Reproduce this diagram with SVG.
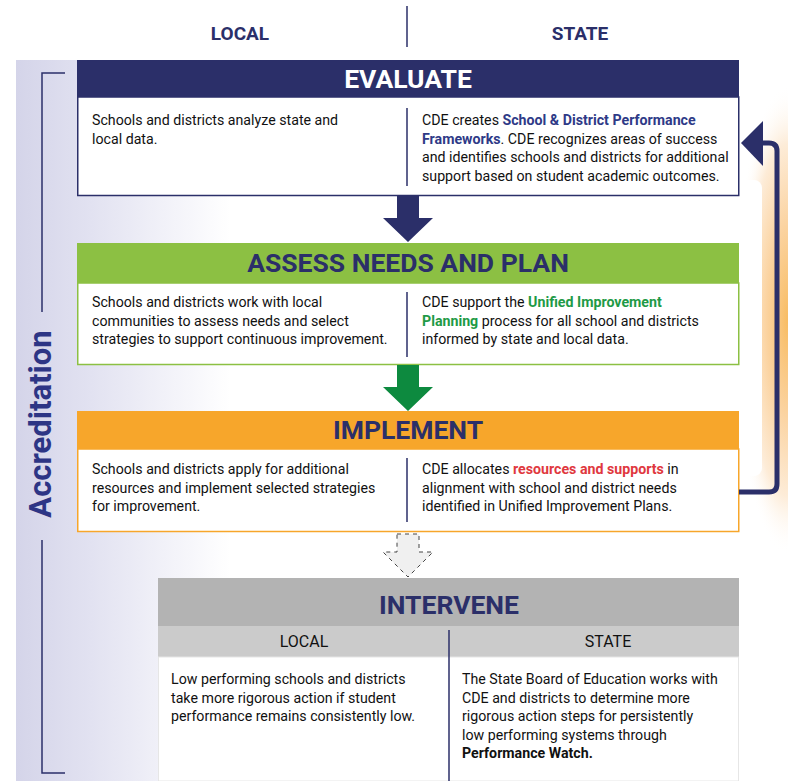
<svg xmlns="http://www.w3.org/2000/svg" width="788" height="781" viewBox="0 0 788 781">
<defs>
<linearGradient id="lav" x1="16" y1="0" x2="230" y2="0" gradientUnits="userSpaceOnUse">
<stop offset="0" stop-color="#d4d4e9"/><stop offset="0.35" stop-color="#e2e2f1"/><stop offset="1" stop-color="#ffffff"/>
</linearGradient>
<radialGradient id="org" cx="1" cy="0.5" r="0.5">
<stop offset="0" stop-color="#f8bc62"/><stop offset="0.4" stop-color="#fbd3a0"/><stop offset="0.75" stop-color="#fdecd8"/><stop offset="1" stop-color="#ffffff" stop-opacity="0"/>
</radialGradient>
<style>
.t{font-family:Roboto,"Liberation Sans",sans-serif;font-size:14.2px;fill:#111}
.b{font-weight:bold}
.col{font-family:Roboto,"Liberation Sans",sans-serif;font-size:19px;font-weight:bold;fill:#2b2f69;text-anchor:middle}
.h{font-family:Roboto,"Liberation Sans",sans-serif;font-size:26.5px;font-weight:bold;text-anchor:middle}
.sub{font-family:Roboto,"Liberation Sans",sans-serif;font-size:16px;fill:#111;text-anchor:middle}
.div{stroke:#2b2f69;stroke-width:1.5}
</style>
</defs>
<rect x="16" y="60" width="772" height="721" fill="url(#lav)"/>
<rect x="680" y="85" width="108" height="470" fill="url(#org)"/>
<rect x="600" y="180" width="162" height="296" rx="8" fill="#ffffff"/>
<g id="columns">
<text class="col" x="240" y="40">LOCAL</text>
<text class="col" x="580" y="40">STATE</text>
<line class="div" x1="407" y1="6" x2="407" y2="47"/>
</g>
<g id="accreditation">
<path d="M65,73 H42 V312" fill="none" stroke="#2b2f69" stroke-width="1.5"/>
<path d="M42,540 V773 H65" fill="none" stroke="#2b2f69" stroke-width="1.5"/>
<text x="51" y="424" transform="rotate(-90 51 424)" text-anchor="middle" font-family="Roboto,'Liberation Sans',sans-serif" font-size="31" font-weight="bold" fill="#2d3585">Accreditation</text>
</g>
<g id="evaluate">
<rect x="77.75" y="97" width="661" height="98.5" fill="#fff" stroke="#2b2f69" stroke-width="1.5"/>
<rect x="77" y="60" width="662" height="37" fill="#2b2f69"/>
<text class="h" x="408" y="88" fill="#fff">EVALUATE</text>
<line class="div" x1="407" y1="108" x2="407" y2="186"/>
<text class="t" x="92" y="125">Schools and districts analyze state and</text>
<text class="t" x="92" y="143.5">local data.</text>
<text class="t" x="422" y="125">CDE creates <tspan class="b" fill="#2e3a87">School &amp; District Performance</tspan></text>
<text class="t" x="422" y="143.5"><tspan class="b" fill="#2e3a87">Frameworks</tspan>. CDE recognizes areas of success</text>
<text class="t" x="422" y="162">and identifies schools and districts for additional</text>
<text class="t" x="422" y="180.5">support based on student academic outcomes.</text>
</g>
<g id="assess">
<rect x="77.75" y="283" width="661" height="81.5" fill="#fff" stroke="#8cc043" stroke-width="1.5"/>
<rect x="77" y="243" width="662" height="40" fill="#8cc043"/>
<text class="h" x="408" y="272" fill="#2b2f69">ASSESS NEEDS AND PLAN</text>
<line class="div" x1="407" y1="292" x2="407" y2="357"/>
<text class="t" x="92" y="307">Schools and districts work with local</text>
<text class="t" x="92" y="325.5">communities to assess needs and select</text>
<text class="t" x="92" y="344">strategies to support continuous improvement.</text>
<text class="t" x="422" y="307">CDE support the <tspan class="b" fill="#1e9a46">Unified Improvement</tspan></text>
<text class="t" x="422" y="325.5"><tspan class="b" fill="#1e9a46">Planning</tspan> process for all school and districts</text>
<text class="t" x="422" y="344">informed by state and local data.</text>
</g>
<g id="implement">
<rect x="77.75" y="449" width="661" height="82.5" fill="#fff" stroke="#f7a62b" stroke-width="1.5"/>
<rect x="77" y="411" width="662" height="38" fill="#f7a62b"/>
<text class="h" x="408" y="439" fill="#2b2f69">IMPLEMENT</text>
<line class="div" x1="407" y1="458" x2="407" y2="522"/>
<text class="t" x="92" y="474">Schools and districts apply for additional</text>
<text class="t" x="92" y="492.5">resources and implement selected strategies</text>
<text class="t" x="92" y="511">for improvement.</text>
<text class="t" x="422" y="474">CDE allocates <tspan class="b" fill="#e0383e">resources and supports</tspan> in</text>
<text class="t" x="422" y="492.5">alignment with school and district needs</text>
<text class="t" x="422" y="511">identified in Unified Improvement Plans.</text>
</g>
<g id="intervene">
<rect x="158" y="578" width="581" height="48" fill="#b3b3b3"/>
<rect x="158" y="626" width="581" height="31" fill="#cbcbcb"/>
<rect x="158.5" y="657" width="580" height="124" fill="#fff" stroke="#e6e6e6" stroke-width="1"/>
<text class="h" x="449" y="614" fill="#2b2f69">INTERVENE</text>
<text class="sub" x="304" y="647">LOCAL</text>
<text class="sub" x="608" y="647">STATE</text>
<line class="div" x1="449" y1="630" x2="449" y2="781"/>
<text class="t" x="171" y="684">Low performing schools and districts</text>
<text class="t" x="171" y="702.5">take more rigorous action if student</text>
<text class="t" x="171" y="721">performance remains consistently low.</text>
<text class="t" x="462" y="684">The State Board of Education works with</text>
<text class="t" x="462" y="702.5">CDE and districts to determine more</text>
<text class="t" x="462" y="721">rigorous action steps for persistently</text>
<text class="t" x="462" y="739.5">low performing systems through</text>
<text class="t b" x="462" y="758">Performance Watch.</text>
</g>
<g id="connectors">
<path d="M397,196 H419 V218 H433 L408,242 L383,218 H397 Z" fill="#2b2f69"/>
<path d="M397,365 H419 V387 H433 L408,411 L383,387 H397 Z" fill="#0d8a3f"/>
<path d="M397,534 H419 V552 H433 L408,577 L383,552 H397 Z" fill="#f0f0f0" stroke="#444" stroke-width="1" stroke-dasharray="4,4"/>
<path d="M739,492 H769 Q777,492 777,484 V151 Q777,143 769,143 H762" fill="none" stroke="#2b2f69" stroke-width="5"/>
<path d="M741,143 L763,121 L763,166 Z" fill="#2b2f69"/>
</g>
</svg>
